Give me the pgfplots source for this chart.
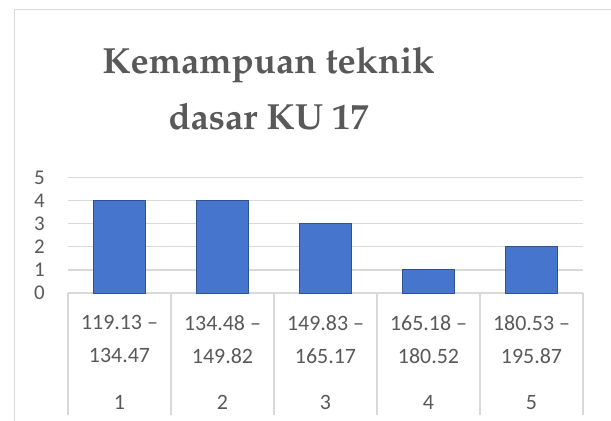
\documentclass[border=0pt]{standalone}
\usepackage[T1,TU]{fontenc}
\usepackage{fontspec}
\setmainfont{Carlito}
\usepackage{pgfplots}
\pgfplotsset{compat=1.18}
\definecolor{txt}{HTML}{595959}
\definecolor{grd}{HTML}{D9D9D9}
\definecolor{barblue}{HTML}{4675CE}
\definecolor{bardark}{HTML}{2F528F}
\newcommand\titlefont{\fontencoding{T1}\fontfamily{ppl}\fontseries{b}\selectfont}
\begin{document}
\begin{tikzpicture}
\useasboundingbox (0bp,0bp) rectangle (611bp,421bp);
\fill[white] (0bp,0bp) rectangle (611bp,421bp);
\draw[grd, line width=1.2bp] (14.5bp,-10bp) -- (14.5bp,411.5bp) -- (630bp,411.5bp);
\node[anchor=base, text=txt, font={\fontsize{36.5}{40}\titlefont}] at (268.5bp,347bp) {Kemampuan teknik};
\node[anchor=base, text=txt, font={\fontsize{36.5}{40}\titlefont}] at (268.5bp,291bp) {dasar KU 17};
\begin{axis}[
  at={(68bp,128bp)}, anchor=south west,
  scale only axis, width=515bp, height=115.5bp,
  xmin=-0.5, xmax=4.5, ymin=0, ymax=5,
  axis line style={draw=none},
  ytick={0,1,2,3,4,5},
  ymajorgrids, grid style={grd, line width=1.2bp},
  major tick length=0pt,
  yticklabel style={text=txt, font=\fontsize{21}{24}\selectfont, inner sep=0pt, xshift=-23bp},
  /pgf/number format/assume math mode=true,
  xtick={0,1,2,3,4},
  xticklabels={{119.13 –\\134.47\\[14bp]1},{134.48 –\\149.82\\[14bp]2},{149.83 –\\165.17\\[14bp]3},{165.18 –\\180.52\\[14bp]4},{180.53 –\\195.87\\[14bp]5}},
  xticklabel style={text=txt, align=center, anchor=north, inner sep=0pt, yshift=-22bp, font=\fontsize{22}{33}\selectfont},
  clip=false,
]
\addplot[ybar, bar width=52bp, fill=barblue, draw=bardark, line width=1bp] coordinates {(0,4) (1,4) (2,3) (3,1) (4,2)};
\pgfplotsinvokeforeach{-0.5,0.5,1.5,2.5,3.5,4.5}{
  \draw[grd, line width=1.2bp] (axis cs:#1,0) -- ++(0bp,-122bp);
}
\end{axis}
\end{tikzpicture}
\end{document}
